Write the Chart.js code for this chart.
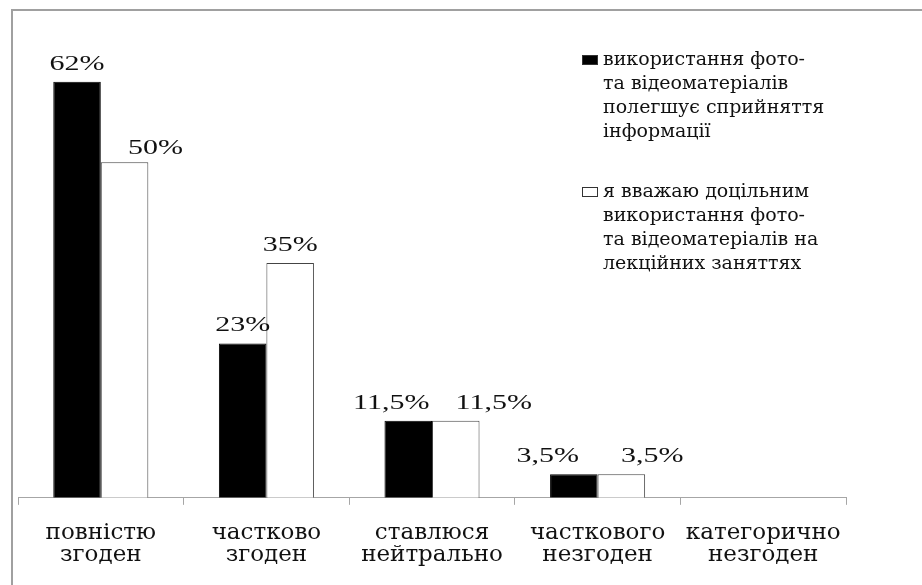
<!DOCTYPE html>
<html>
<head>
<meta charset="utf-8">
<script src="https://cdn.jsdelivr.net/npm/chart.js@4"></script>
<style>
  html, body { margin: 0; padding: 0; background: #fff; }
  #frame { position: absolute; left: 11px; top: 9px; width: 911px; height: 576px;
           border-left: 2px solid #a0a0a0; border-top: 2px solid #a0a0a0; }
  #myChart { position: absolute; left: 0; top: 0; }
</style>
</head>
<body>
<div id="frame"></div>
<canvas id="myChart" width="922" height="585"></canvas>
<script>
// categories and series
var categories = [
    ["повністю", "згоден"],
    ["частково", "згоден"],
    ["ставлюся", "нейтрально"],
    ["часткового", "незгоден"],
    ["категорично", "незгоден"]
];
var photoHelps = [62, 23, 11.5, 3.5, 0];
var photoUseful = [50, 35, 11.5, 3.5, 0];
var photoHelpsLabel = ["використання фото-", "та відеоматеріалів", "полегшує сприйняття", "інформації"];
var photoUsefulLabel = ["я вважаю доцільним", "використання фото-", "та відеоматеріалів на", "лекційних заняттях"];

// value labels over the bars (small nudges as in the original layout)
var valueLabels = {
    id: "valueLabels",
    afterDatasetsDraw: function (chart, args, opts) {
        var ctx = chart.ctx;
        chart.data.datasets.forEach(function (ds, di) {
            var meta = chart.getDatasetMeta(di);
            meta.data.forEach(function (bar, i) {
                var v = ds.data[i];
                if (!v) return;
                var nudge = (opts.nudge[i] || [])[di] || [0, 0];
                ctx.save();
                ctx.translate(bar.x + nudge[0], bar.y - 12 + nudge[1]);
                ctx.scale(1.5, 1);
                ctx.font = "20px 'Liberation Serif'";
                ctx.fillStyle = "#111";
                ctx.textAlign = "center";
                ctx.textBaseline = "alphabetic";
                ctx.fillText(String(v).replace(".", ",") + "%", 0, 0);
                ctx.restore();
            });
        });
    }
};

// legend on the right, multi-line labels
var sideLegend = {
    id: "sideLegend",
    afterDraw: function (chart) {
        var ctx = chart.ctx;
        var x = chart.chartArea.right - 264;
        var y = 60;
        ctx.save();
        ctx.font = "19px 'DejaVu Serif'";
        ctx.textAlign = "left";
        ctx.textBaseline = "alphabetic";
        chart.data.datasets.forEach(function (ds) {
            ctx.fillStyle = ds.backgroundColor;
            ctx.fillRect(x, y - 5, 16, 10);
            ctx.strokeStyle = "#333";
            ctx.lineWidth = 1;
            ctx.strokeRect(x + 0.5, y - 4.5, 15, 9);
            ctx.fillStyle = "#111";
            ds.label.forEach(function (line, k) {
                ctx.fillText(line, x + 21, y + 5 + k * 24);
            });
            y += 132;
        });
        ctx.restore();
    }
};

new Chart("myChart", {
    type: "bar",
    data: {
        labels: categories,
        datasets: [{
            label: photoHelpsLabel,
            data: photoHelps,
            backgroundColor: "#000",
            borderColor: "#000",
            borderWidth: 1
        }, {
            label: photoUsefulLabel,
            data: photoUseful,
            backgroundColor: "#fff",
            borderColor: "#444",
            borderWidth: 1
        }]
    },
    options: {
        responsive: false,
        animation: false,
        layout: { padding: { left: 18, right: 76, top: 28, bottom: 2 } },
        datasets: { bar: { barPercentage: 1, categoryPercentage: 0.574 } },
        plugins: {
            legend: { display: false },
            tooltip: { enabled: false },
            valueLabels: { nudge: [[[0, 0], [31, 4]], [], [[-17, 0], [38, 0]], [[-26, 0], [31, 0]], []] }
        },
        scales: {
            x: {
                grid: { display: true, drawOnChartArea: false, drawTicks: true, tickLength: 7, color: "#a6a6a6", offset: true },
                border: { display: true, color: "#a6a6a6", width: 1 },
                ticks: { color: "#111", padding: 17, maxRotation: 0, autoSkip: false,
                         font: { family: "'DejaVu Serif'", size: 23, lineHeight: 0.96 } }
            },
            y: { display: false, min: 0, max: 70 }
        }
    },
    plugins: [valueLabels, sideLegend]
});
</script>
</body>
</html>
